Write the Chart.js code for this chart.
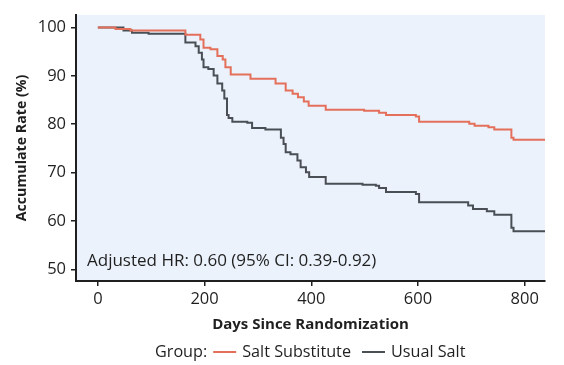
<!DOCTYPE html>
<html>
<head>
<meta charset="utf-8">
<script src="https://cdn.jsdelivr.net/npm/chart.js@4.4.1/dist/chart.umd.min.js"></script>
<style>
  html, body { margin: 0; padding: 0; background: #fff; }
  #wrap { width: 564px; height: 365px; }
</style>
</head>
<body>
<div id="wrap"><canvas id="kmChart" width="564" height="365"></canvas></div>
<script>
// Kaplan-Meier style curves (days, accumulate rate %)
const seriesNames = ['Salt Substitute', 'Usual Salt'];
const substituteDays = [0, 33, 61, 164, 192, 198, 211, 224, 234, 239, 249, 286, 333, 352, 365, 375, 386, 395, 427, 499, 527, 540, 596, 602, 696, 706, 732, 743, 775, 779, 838];
const substituteRate = [100, 99.7, 99.4, 98.5, 97.5, 95.8, 95.5, 94.1, 93.4, 91.8, 90.3, 89.4, 88.4, 87.0, 86.3, 85.6, 84.7, 83.8, 83.0, 82.8, 82.4, 81.9, 81.6, 80.5, 80.1, 79.7, 79.4, 78.9, 77.2, 76.8, 76.8];
const usualDays = [0, 33, 48, 64, 95, 164, 183, 189, 195, 198, 207, 217, 224, 233, 237, 242, 245, 252, 280, 289, 314, 343, 348, 352, 361, 374, 380, 390, 396, 427, 496, 521, 527, 540, 596, 602, 694, 703, 729, 743, 775, 779, 838];
const usualRate = [100, 100, 99.4, 98.9, 98.7, 96.9, 96.1, 94.8, 93.4, 91.8, 91.4, 90.1, 88.4, 87.0, 85.3, 81.9, 81.3, 80.5, 80.3, 79.2, 78.9, 77.2, 75.9, 74.2, 73.8, 72.5, 71.1, 70.1, 69.1, 67.7, 67.5, 67.3, 66.8, 66.0, 65.6, 63.9, 63.2, 62.5, 62.0, 61.3, 58.6, 57.9, 57.9];
const xTicks = [0, 200, 400, 600, 800];
const yTicks = [50, 60, 70, 80, 90, 100];
const hrText = 'Adjusted HR: 0.60 (95% CI: 0.39-0.92)';

const colors = ['#E4705B', '#4A4F56'];
const ink = '#1f1f1f';
const fontFamily = '"Open Sans", Lato, sans-serif';

const toPoints = (xs, ys) => xs.map((x, i) => ({ x: x, y: ys[i] }));

// light blue panel behind the plot
const panelBg = {
  id: 'panelBg',
  beforeDraw(chart) {
    const { ctx, chartArea: a } = chart;
    ctx.save();
    ctx.fillStyle = '#EBF2FB';
    ctx.fillRect(a.left, a.top, a.right - a.left, a.bottom - a.top);
    ctx.restore();
  }
};

// HR note and bottom legend
const extras = {
  id: 'extras',
  afterDraw(chart) {
    const { ctx, chartArea: a } = chart;
    ctx.save();
    ctx.fillStyle = ink;
    ctx.textBaseline = 'middle';
    ctx.font = '17px ' + fontFamily;
    ctx.fillText(hrText, a.left + 11, 261);

    // legend row
    ctx.font = '16.2px ' + fontFamily;
    const y = 352;
    const lineLen = 23;
    const parts = ['Group:', seriesNames[0], seriesNames[1]];
    const w = parts.map(p => ctx.measureText(p).width);
    const gap = 6, groupGap = 11;
    let x = 155;
    ctx.fillText(parts[0], x, y);
    x += w[0] + gap;
    ctx.strokeStyle = colors[0];
    ctx.lineWidth = 2;
    ctx.beginPath(); ctx.moveTo(x, y); ctx.lineTo(x + lineLen, y); ctx.stroke();
    x += lineLen + gap;
    ctx.fillText(parts[1], x, y);
    x += w[1] + groupGap;
    ctx.strokeStyle = colors[1];
    ctx.beginPath(); ctx.moveTo(x, y); ctx.lineTo(x + lineLen, y); ctx.stroke();
    x += lineLen + gap;
    ctx.fillText(parts[2], x, y);
    ctx.restore();
  }
};

new Chart(document.getElementById('kmChart'), {
  type: 'line',
  data: {
    datasets: [
      {
        label: seriesNames[0],
        data: toPoints(substituteDays, substituteRate),
        borderColor: colors[0],
        borderWidth: 2,
        stepped: true,
        pointRadius: 0,
        fill: false
      },
      {
        label: seriesNames[1],
        data: toPoints(usualDays, usualRate),
        borderColor: colors[1],
        borderWidth: 2,
        stepped: true,
        pointRadius: 0,
        fill: false
      }
    ]
  },
  options: {
    responsive: false,
    animation: false,
    layout: { padding: { top: 10, right: 19, left: 0, bottom: 30 } },
    plugins: {
      legend: { display: false },
      tooltip: { enabled: false }
    },
    scales: {
      x: {
        type: 'linear',
        min: -41,
        max: 838,
        afterFit: s => { s.height = 54; },
        afterBuildTicks: s => { s.ticks = xTicks.map(v => ({ value: v })); },
        border: { display: true, color: ink, width: 2 },
        grid: { drawOnChartArea: false, color: ink, lineWidth: 1.5, tickLength: 5 },
        ticks: { color: ink, padding: 3, font: { family: fontFamily, size: 16.5 } },
        title: {
          display: true,
          text: 'Days Since Randomization',
          color: ink,
          padding: { top: 0, bottom: 1 },
          font: { family: fontFamily, size: 15, weight: 'bold' }
        }
      },
      y: {
        min: 47.6,
        max: 102.6,
        afterFit: s => { s.width = 76; },
        afterBuildTicks: s => { s.ticks = yTicks.map(v => ({ value: v })); },
        border: { display: true, color: ink, width: 2 },
        grid: { drawOnChartArea: false, color: ink, lineWidth: 1.5, tickLength: 5 },
        ticks: { color: ink, padding: 5, font: { family: fontFamily, size: 16.5 } },
        title: {
          display: true,
          text: 'Accumulate Rate (%)',
          color: ink,
          padding: { top: 13, bottom: 0 },
          font: { family: fontFamily, size: 14.2, weight: 'bold' }
        }
      }
    }
  },
  plugins: [panelBg, extras]
});
</script>
</body>
</html>
